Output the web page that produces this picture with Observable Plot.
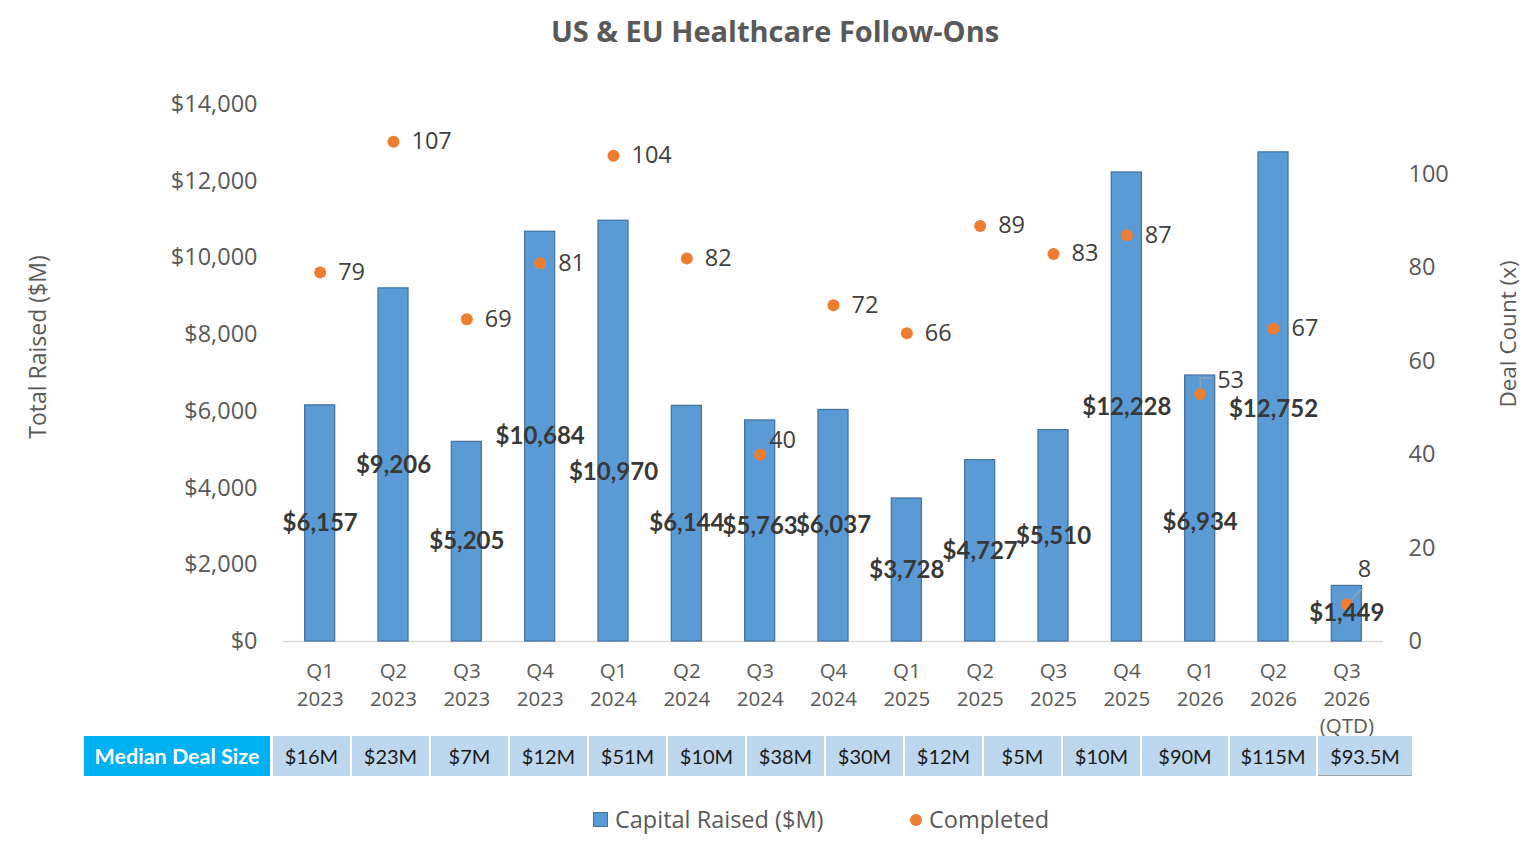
<!DOCTYPE html>
<html>
<head>
<meta charset="utf-8">
<script src="https://cdn.jsdelivr.net/npm/d3@7"></script>
<script src="https://cdn.jsdelivr.net/npm/@observablehq/plot@0.6"></script>
<style>
  html, body { margin: 0; padding: 0; background: #fff; }
  body { width: 1536px; height: 852px; position: relative; overflow: hidden; font-family: "Open Sans", sans-serif; }
  #title { position: absolute; top: 10px; left: 0; width: 1550px; text-align: center; font-size: 29px; font-weight: 700; color: #595959; line-height: 42px; }
  #chart { position: absolute; top: 60px; left: 0; }
  #table { position: absolute; top: 736px; left: 84px; display: flex; height: 40px; }
  #table div { height: 40px; line-height: 40px; text-align: center; font-family: Lato, sans-serif; font-size: 20px; box-sizing: border-box; }
  #table .head { width: 186px; background: #00b0f0; color: #fff; font-weight: 700; font-size: 21.5px; margin-right: 1px; }
  #table .cell { background: #bdd7ee; color: #1a1a1a; margin-left: 2px; }
  #legend { position: absolute; top: 803px; left: 0; width: 1536px; height: 32px; font-size: 23.5px; color: #595959; }
  #legend .item { position: absolute; top: 0; line-height: 32px; white-space: nowrap; }
  #legend .sw { display: inline-block; vertical-align: middle; margin-right: 7px; position: relative; top: -2px; }
</style>
</head>
<body>
<div id="title">US &amp; EU Healthcare Follow-Ons</div>
<div id="chart"></div>
<div id="table"></div>
<div id="legend">
  <div class="item" style="left:593px"><span class="sw" style="width:13px;height:13px;background:#5b9bd5;border:1px solid #41719c"></span>Capital Raised ($M)</div>
  <div class="item" style="left:910px"><span class="sw" style="width:12px;height:12px;border-radius:50%;background:#ed7d31"></span>Completed</div>
</div>
<script>
// ---- data ----
const quarters = ["Q1\n2023","Q2\n2023","Q3\n2023","Q4\n2023","Q1\n2024","Q2\n2024","Q3\n2024","Q4\n2024","Q1\n2025","Q2\n2025","Q3\n2025","Q4\n2025","Q1\n2026","Q2\n2026","Q3\n2026\n(QTD)"];
const capitalRaised = [6157, 9206, 5205, 10684, 10970, 6144, 5763, 6037, 3728, 4727, 5510, 12228, 6934, 12752, 1449];
const dealCount = [79, 107, 69, 81, 104, 82, 40, 72, 66, 89, 83, 87, 53, 67, 8];
const leftTicks = [0, 2000, 4000, 6000, 8000, 10000, 12000, 14000];
const rightTicks = [0, 20, 40, 60, 80, 100];
const leftMax = 14000;
const rightMax = 115;
const medianLabel = "Median Deal Size";
const medianDealSize = ["$16M","$23M","$7M","$12M","$51M","$10M","$38M","$30M","$12M","$5M","$10M","$90M","$115M","$93.5M"];

// ---- styles ----
const cellWidths = [77,77,77,77,77,77,77,77,77,77,77,86,86,94];
// label placement for crowded count labels: index -> [dx, dy, leader]
const labelNudge = {6: [9, -14, null], 12: [17, -14, "elbow"], 14: [11, -35, "diag"]};
// bar value labels moved off centre to avoid collisions: index -> dy
const barLabelNudge = {4: 41, 12: 14, 13: 12, 6: -5};

const k = leftMax / rightMax;
const rows = quarters.map((q, i) => ({q, cap: capitalRaised[i], cnt: dealCount[i], i}));
const fmtMoney = d => "$" + d3.format(",")(d);

const normalRows = rows.filter(d => !(d.i in labelNudge));
const nudgeMarks = Object.entries(labelNudge).map(([i, [dx, dy]]) =>
  Plot.text([rows[+i]], {x: "q", y: d => d.cnt * k, text: d => String(d.cnt), dx, dy, textAnchor: "start", fontSize: 23.5, fill: "#404040"}));

const leaderShape = {
  elbow: {draw(ctx, l) { ctx.moveTo(0, -6); ctx.lineTo(0, -l); ctx.lineTo(10, -l); }},
  diag: {draw(ctx, l) { ctx.moveTo(0, -6); ctx.lineTo(0, -l); }}
};
const leaderMarks = Object.entries(labelNudge).filter(([, v]) => v[2]).map(([i, v]) =>
  Plot.vector([rows[+i]], {x: "q", y: d => d.cnt * k, length: v[2] === "elbow" ? 16 : 22, rotate: v[2] === "elbow" ? 0 : 45,
    anchor: "start", stroke: "#a6a6a6", strokeWidth: 1, shape: leaderShape[v[2]]}));

const barLabelStyle = {fontFamily: "Lato, sans-serif", fontWeight: 700, fontSize: 24, fill: "#383838"};
const barLabelMarks = [
  Plot.text(rows.filter(d => !(d.i in barLabelNudge)), {x: "q", y: d => d.cap / 2, text: d => fmtMoney(d.cap), ...barLabelStyle}),
  ...Object.entries(barLabelNudge).map(([i, dy]) =>
    Plot.text([rows[+i]], {x: "q", y: d => d.cap / 2, text: d => fmtMoney(d.cap), dy, ...barLabelStyle}))
];

const chart = Plot.plot({
  width: 1536,
  height: 670,
  marginLeft: 283,
  marginRight: 153,
  marginTop: 44,
  marginBottom: 89,
  style: {fontFamily: "Open Sans, sans-serif", color: "#595959", background: "transparent", overflow: "visible"},
  x: {type: "band", domain: quarters, paddingInner: 0.59, paddingOuter: 0.295, round: false, axis: null},
  y: {domain: [0, leftMax], axis: null},
  marks: [
    Plot.axisY(leftTicks, {anchor: "left", tickSize: 0, tickPadding: 26, tickFormat: fmtMoney, fontSize: 23.5, label: null}),
    Plot.axisY(rightTicks.map(v => v * k), {anchor: "right", tickSize: 0, tickPadding: 25, tickFormat: d => String(Math.round(d / k)), fontSize: 23.5, label: null}),
    Plot.axisX({tickSize: 0, tickPadding: 17, tickFormat: d => d, fontSize: 20.5, lineHeight: 1.35, label: null}),
    Plot.text(["Total Raised ($M)"], {frameAnchor: "left", dx: -245, dy: -26, rotate: -90, textAnchor: "middle", fontSize: 23, fill: "#595959"}),
    Plot.text(["Deal Count (x)"], {frameAnchor: "right", dx: 125, dy: -39, rotate: -90, textAnchor: "middle", fontSize: 22.5, fill: "#595959"}),
    Plot.ruleY([0], {stroke: "#d9d9d9", strokeWidth: 1.5}),
    Plot.barY(rows, {x: "q", y: "cap", fill: "#5b9bd5", stroke: "#41719c", strokeWidth: 1.2}),
    ...leaderMarks,
    Plot.dot(rows, {x: "q", y: d => d.cnt * k, r: 6, fill: "#ed7d31", stroke: "none"}),
    Plot.text(normalRows, {x: "q", y: d => d.cnt * k, text: d => String(d.cnt), dx: 18, textAnchor: "start", fontSize: 23.5, fill: "#404040"}),
    ...nudgeMarks,
    ...barLabelMarks
  ]
});
document.getElementById("chart").appendChild(chart);

// ---- median deal size table ----
const table = document.getElementById("table");
const head = document.createElement("div");
head.className = "head";
head.textContent = medianLabel;
table.appendChild(head);
medianDealSize.forEach((v, i) => {
  const c = document.createElement("div");
  c.className = "cell";
  c.style.width = cellWidths[i] + "px";
  if (i === medianDealSize.length - 1) c.style.borderBottom = "1px solid #a6a6a6";
  c.textContent = v;
  table.appendChild(c);
});
</script>
</body>
</html>
